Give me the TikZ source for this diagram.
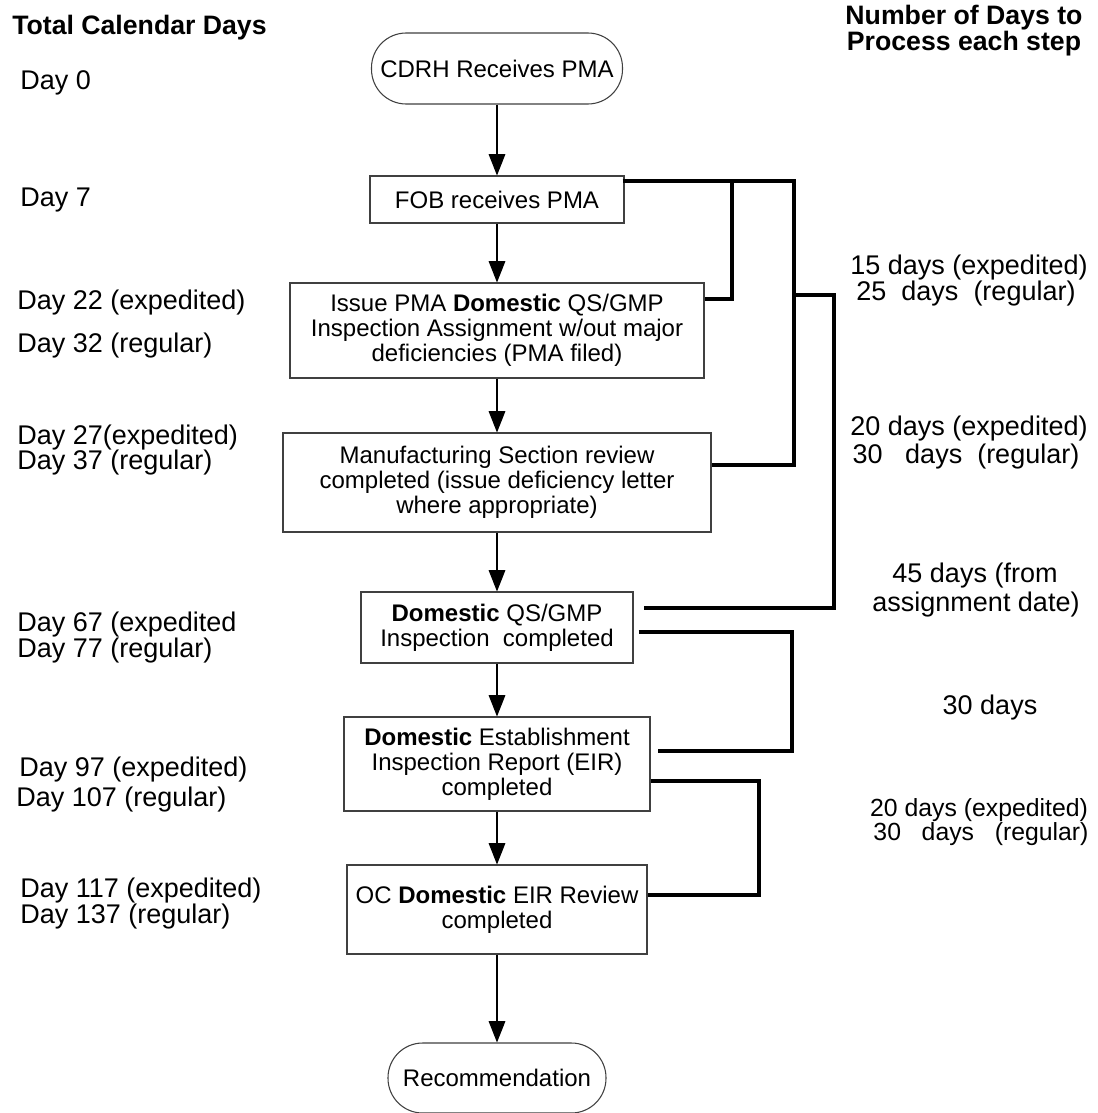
\documentclass[tikz,border=0pt]{standalone}
\usepackage{fontspec}
\setmainfont{Liberation Sans}
\usetikzlibrary{arrows.meta,calc}
\begin{document}
\begin{tikzpicture}[x=0.75pt,y=-0.75pt,
  box/.style={draw=black!75, line width=0.8pt, inner sep=0pt, align=center, font=\fontsize{18}{18.75}\selectfont},
  term/.style={box, rounded corners=26pt},
  arr/.style={line width=0.8pt, -{Triangle[length=16pt,width=12.5pt]}},
  conn/.style={line width=3pt},
  lbl/.style={inner sep=0pt, anchor=west, text height=14.5pt, text depth=0pt, font=\fontsize{20.25}{24}\selectfont},
  rlbl/.style={lbl, anchor=center},
  slbl/.style={inner sep=0pt, anchor=center, text height=13.3pt, text depth=0pt, font=\fontsize{18.6}{22}\selectfont},
  hdr/.style={inner sep=0pt, text height=14.3pt, text depth=0pt, font=\bfseries\fontsize{20}{24}\selectfont},
]
\useasboundingbox (0,0) rectangle (1097,1113);
\fill[white] (0,0) rectangle (1097,1113);

% boxes
\node[term, minimum width=188.25pt, minimum height=53.25pt] (cdrh) at (497,68.5) {CDRH Receives PMA};
\node[box, minimum width=190.5pt, minimum height=35.25pt] (fob) at (497,199.5) {FOB receives PMA};
\node[box, minimum width=310.5pt, minimum height=71.25pt] (issue) at (497,330.5) {Issue PMA \textbf{Domestic} QS/GMP\\Inspection Assignment w/out major\\deficiencies (PMA filed)};
\node[box, minimum width=321pt, minimum height=74.25pt] (manuf) at (497,482.5) {Manufacturing Section review\\completed (issue deficiency letter\\where appropriate)};
\node[box, minimum width=204pt, minimum height=53.25pt] (dqs) at (497,627.5) {\textbf{Domestic} QS/GMP\\Inspection\ \ completed};
\node[box, minimum width=229.5pt, minimum height=70.5pt] (eir) at (497,764) {\textbf{Domestic} Establishment\\Inspection Report (EIR)\\completed};
\node[box, minimum width=225pt, minimum height=66.75pt] (oc) at (497,909.5) {OC \textbf{Domestic} EIR Review\\completed};
\node[term, minimum width=163.5pt, minimum height=52.5pt] (rec) at (497,1078) {Recommendation};

% arrows
\draw[arr] (cdrh) -- (fob);
\draw[arr] (fob) -- (issue);
\draw[arr] (issue) -- (manuf);
\draw[arr] (manuf) -- (dqs);
\draw[arr] (dqs) -- (eir);
\draw[arr] (eir) -- (oc);
\draw[arr] (oc) -- (rec);

% bracket connectors
\draw[conn] ($(fob.east)+(-2,-18.5)$) -- (794,181) -- (794,465) -- ($(manuf.east)+(0,-17.5)$);
\draw[conn] (732,181) -- (732,299) -- ($(issue.east)+(0,-31.5)$);
\draw[conn] (794,295) -- (834,295) -- (834,608) -- ($(dqs.east)+(10,-19.5)$);
\draw[conn] ($(dqs.east)+(5,4.5)$) -- (792,632) -- (792,751) -- ($(eir.east)+(7,-13)$);
\draw[conn] ($(eir.east)+(0,17)$) -- (759,781) -- (759,895) -- ($(oc.east)+(0,-14.5)$);

% headers
\node[hdr, anchor=west] (hl) at (12,25) {Total Calendar Days};
\node[hdr] (hr1) at (964,15) {Number of Days to};
\node[hdr] (hr2) at (964,41) {Process each step};

% left labels
\node[lbl] (d0) at (20,80) {Day 0};
\node[lbl] (d7) at (20,197) {Day 7};
\node[lbl] (d22) at (17,300) {Day 22 (expedited)};
\node[lbl] (d32) at (17,343) {Day 32 (regular)};
\node[lbl] (d27) at (17,435) {Day 27(expedited)};
\node[lbl] (d37) at (17,460) {Day 37 (regular)};
\node[lbl] (d67) at (17,622) {Day 67 (expedited};
\node[lbl] (d77) at (17,648) {Day 77 (regular)};
\node[lbl] (d97) at (19,767) {Day 97 (expedited)};
\node[lbl] (d107) at (16,797) {Day 107 (regular)};
\node[lbl] (d117) at (20,888) {Day 117 (expedited)};
\node[lbl] (d137) at (20,914) {Day 137 (regular)};

% right labels
\node[rlbl] (r1a) at (969,265) {15 days (expedited)};
\node[rlbl] (r1b) at (966,291) {25\ \ days\ \ (regular)};
\node[rlbl] (r2a) at (969,426) {20 days (expedited)};
\node[rlbl] (r2b) at (966,454) {30\ \ \ days\ \ (regular)};
\node[rlbl] (r3a) at (975,573) {45 days (from};
\node[rlbl] (r3b) at (976,602) {assignment date)};
\node[rlbl] (r4) at (990,705) {30 days};
\node[slbl] (r5a) at (979,808) {20 days (expedited)};
\node[slbl] (r5b) at (981,832) {30\ \ \ days\ \ \ (regular)};
\end{tikzpicture}
\end{document}
